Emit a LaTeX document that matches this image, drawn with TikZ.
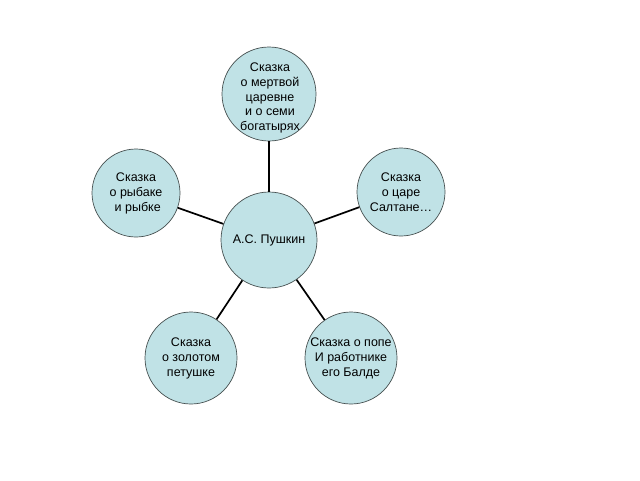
\documentclass[tikz,border=0pt]{standalone}
\usepackage{fontspec}
\setmainfont{Liberation Sans}
\definecolor{cfill}{RGB}{192,226,230}
\definecolor{cedge}{RGB}{70,80,80}
\begin{document}
\begin{tikzpicture}[x=1pt,y=-1pt,
  bubble/.style={circle,draw=cedge,line width=0.7pt,fill=cfill,inner sep=0pt,
    align=center,font=\fontsize{12.5}{15}\selectfont},
  link/.style={line width=1.7pt,black}]
\useasboundingbox (0,0) rectangle (640,480);
\node[bubble,minimum size=94pt] (top) at (269,94) {};
\node[align=center,font=\fontsize{12.5}{14.8}\selectfont] (toptext) at (270,98) {Сказка\\о мертвой\\царевне\\и о семи\\богатырях};
\node[bubble,minimum size=88pt] (left) at (136,193) {Сказка\\о рыбаке\\\ и рыбке};
\node[bubble,minimum size=88pt] (right) at (401,192) {Сказка\\о царе\\Салтане…};
\node[bubble,minimum size=96pt] (c) at (269,240) {А.С. Пушкин};
\node[bubble,minimum size=92pt] (bl) at (191,358) {Сказка\\о золотом\\петушке};
\node[bubble,minimum size=92pt] (br) at (351,358) {Сказка о попе\\И работнике\\его Балде};
\draw[link] (c) -- (top);
\draw[link] (c) -- (left);
\draw[link] (c) -- (right);
\draw[link] (c) -- (bl);
\draw[link] (c) -- (br);
\end{tikzpicture}
\end{document}
